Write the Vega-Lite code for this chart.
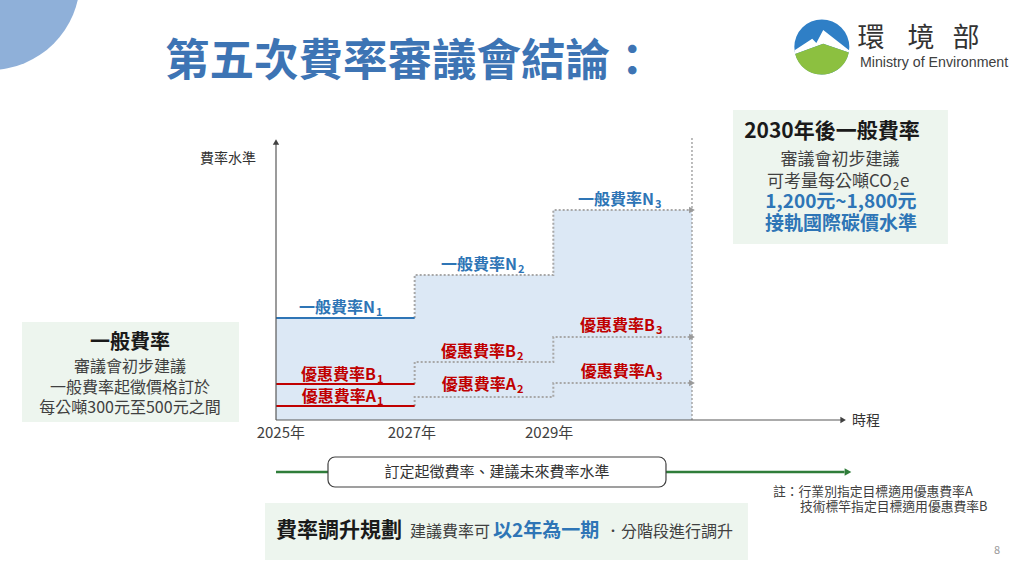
{
  "$schema": "https://vega.github.io/schema/vega-lite/v6.json",
  "width": 1024,
  "height": 576,
  "autosize": {"type": "none"},
  "padding": 0,
  "background": "white",
  "config": {"view": {"stroke": null}, "font": "Noto Sans CJK TC", "text": {"font": "Noto Sans CJK TC"}},
  "datasets": {
    "deco": [{"year": 2020.875, "level": 440}],
    "logo": [{"year": 2032.873, "level": 373}],
    "area": [
      {"year": 2025, "level": 102},
      {"year": 2027, "level": 145},
      {"year": 2029, "level": 210},
      {"year": 2031, "level": 210}
    ],
    "solid": [
      {"series": "N", "year": 2025, "level": 102},
      {"series": "N", "year": 2027, "level": 102},
      {"series": "B", "year": 2025, "level": 36},
      {"series": "B", "year": 2027, "level": 36},
      {"series": "A", "year": 2025, "level": 14},
      {"series": "A", "year": 2027, "level": 14}
    ],
    "dotted": [
      {"series": "N", "i": 1, "year": 2027, "level": 102},
      {"series": "N", "i": 2, "year": 2027, "level": 145},
      {"series": "N", "i": 3, "year": 2029, "level": 145},
      {"series": "N", "i": 4, "year": 2029, "level": 210},
      {"series": "N", "i": 5, "year": 2031, "level": 210},
      {"series": "B", "i": 1, "year": 2027, "level": 36},
      {"series": "B", "i": 2, "year": 2027, "level": 58},
      {"series": "B", "i": 3, "year": 2029, "level": 58},
      {"series": "B", "i": 4, "year": 2029, "level": 83},
      {"series": "B", "i": 5, "year": 2031, "level": 83},
      {"series": "A", "i": 1, "year": 2027, "level": 14},
      {"series": "A", "i": 2, "year": 2027, "level": 23},
      {"series": "A", "i": 3, "year": 2029, "level": 23},
      {"series": "A", "i": 4, "year": 2029, "level": 37},
      {"series": "A", "i": 5, "year": 2031, "level": 37}
    ],
    "ends": [
      {"year": 2031, "level": 210},
      {"year": 2031, "level": 83},
      {"year": 2031, "level": 37}
    ],
    "greenboxes": [
      {"year": 2021.336, "year2": 2024.466, "level": 98, "level2": -2},
      {"year": 2031.591, "year2": 2034.692, "level": 310, "level2": 176},
      {"year": 2024.841, "year2": 2031.807, "level": -83, "level2": -140}
    ]
  },
  "encoding": {
    "x": {"field": "year", "type": "quantitative", "scale": {"domain": [2021.019, 2035.789], "nice": false, "zero": false}, "axis": null},
    "y": {"field": "level", "type": "quantitative", "scale": {"domain": [-156, 420], "nice": false, "zero": false}, "axis": null}
  },
  "layer": [
    {"data": {"name": "deco"}, "mark": {"type": "point", "shape": "circle", "filled": true, "size": 32400, "color": "#8fb0d9", "opacity": 1}},
    {"data": {"values": [{"text": "第五次費率審議會結論：", "year": 2023.399, "level": 357}]},
     "mark": {"type": "text", "align": "left", "baseline": "middle", "fontSize": 44.5, "fontWeight": "bold", "color": "#3d74b4"},
     "encoding": {"text": {"field": "text"}}},
    {"data": {"name": "logo"}, "mark": {"type": "point", "shape": "circle", "filled": true, "size": 3025, "color": "#2f7fc6", "opacity": 1}},
    {"data": {"name": "logo"}, "mark": {"type": "point", "shape": "M -0.99 0.12 L -0.35 -0.3 L -0.2 -0.15 L 0.05 -0.62 L 0.99 0.12 L 0.98 0.2 L 0.05 -0.12 L -0.97 0.25 Z", "filled": true, "size": 3025, "color": "#ffffff", "opacity": 1}},
    {"data": {"name": "logo"}, "mark": {"type": "point", "shape": "M -0.97 0.25 L 0.05 -0.12 L 0.98 0.2 A 1 1 0 0 1 -0.97 0.25 Z", "filled": true, "size": 3025, "color": "#8cc040", "opacity": 1}},
    {"data": {"values": [
        {"text": "環", "year": 2033.581, "level": 381},
        {"text": "境", "year": 2034.302, "level": 381},
        {"text": "部", "year": 2034.951, "level": 381}]},
     "mark": {"type": "text", "align": "center", "baseline": "middle", "fontSize": 27, "color": "#333333"},
     "encoding": {"text": {"field": "text"}}},
    {"data": {"values": [{"text": "Ministry of Environment", "year": 2033.423, "level": 357}]},
     "mark": {"type": "text", "align": "left", "baseline": "middle", "fontSize": 14.2, "font": "Liberation Sans", "color": "#404040"},
     "encoding": {"text": {"field": "text"}}},
    {"data": {"name": "greenboxes"}, "mark": {"type": "rect", "color": "#edf5ee"},
     "encoding": {"x2": {"field": "year2"}, "y2": {"field": "level2"}}},
    {"data": {"name": "area"}, "mark": {"type": "area", "interpolate": "step-after", "color": "#dce8f5", "opacity": 1},
     "encoding": {"y2": {"datum": 0}}},
    {"data": {"values": [{"year": 2031, "level": 0, "level2": 282}]},
     "mark": {"type": "rule", "color": "#a6a6a6", "strokeWidth": 1.5, "strokeDash": [2, 2]},
     "encoding": {"y2": {"field": "level2"}}},
    {"data": {"name": "dotted"}, "mark": {"type": "line", "color": "#a8a8a8", "strokeWidth": 2, "strokeDash": [2, 2]},
     "encoding": {"detail": {"field": "series"}, "order": {"field": "i", "type": "quantitative"}}},
    {"data": {"name": "ends"}, "mark": {"type": "point", "shape": "triangle-right", "filled": true, "size": 45, "color": "#9a9a9a", "opacity": 1}},
    {"data": {"name": "solid"}, "mark": {"type": "line", "strokeWidth": 2.2},
     "encoding": {"detail": {"field": "series"}, "color": {"field": "series", "type": "nominal", "scale": {"domain": ["N", "B", "A"], "range": ["#2e75b6", "#c00000", "#c00000"]}, "legend": null}}},
    {"data": {"values": [
        {"year": 2025, "level": 0, "year2": 2025, "level2": 276},
        {"year": 2025, "level": 0, "year2": 2033.15, "level2": 0}]},
     "mark": {"type": "rule", "color": "#595959", "strokeWidth": 1.2},
     "encoding": {"x2": {"field": "year2"}, "y2": {"field": "level2"}}},
    {"data": {"values": [{"year": 2025, "level": 278}]},
     "mark": {"type": "point", "shape": "triangle-up", "filled": true, "size": 40, "color": "#404040", "opacity": 1}},
    {"data": {"values": [{"year": 2033.18, "level": 0}]},
     "mark": {"type": "point", "shape": "triangle-right", "filled": true, "size": 40, "color": "#404040", "opacity": 1}},
    {"data": {"values": [{"year": 2025, "level": -52, "year2": 2033.2}]},
     "mark": {"type": "rule", "color": "#2f7d3a", "strokeWidth": 2.5},
     "encoding": {"x2": {"field": "year2"}}},
    {"data": {"values": [{"year": 2033.25, "level": -52}]},
     "mark": {"type": "point", "shape": "triangle-right", "filled": true, "size": 60, "color": "#2f7d3a", "opacity": 1}},
    {"data": {"values": [{"year": 2025.75, "year2": 2030.625, "level": -37, "level2": -67}]},
     "mark": {"type": "rect", "fill": "#ffffff", "stroke": "#404040", "strokeWidth": 1.2, "cornerRadius": 7},
     "encoding": {"x2": {"field": "year2"}, "y2": {"field": "level2"}}},
    {"data": {"values": [{"text": "訂定起徵費率、建議未來費率水準", "year": 2028.187, "level": -52}]},
     "mark": {"type": "text", "align": "center", "baseline": "middle", "fontSize": 15, "color": "#333333"},
     "encoding": {"text": {"field": "text"}}},
    {"data": {"values": [{"text": "費率水準", "year": 2024.307, "level": 261}]},
     "mark": {"type": "text", "align": "center", "baseline": "middle", "fontSize": 14, "color": "#333333"},
     "encoding": {"text": {"field": "text"}}},
    {"data": {"values": [{"text": "時程", "year": 2033.307, "level": -1}]},
     "mark": {"type": "text", "align": "left", "baseline": "middle", "fontSize": 14, "color": "#333333"},
     "encoding": {"text": {"field": "text"}}},
    {"data": {"values": [
        {"text": "2025年", "year": 2025.07, "level": -13},
        {"text": "2027年", "year": 2026.96, "level": -13},
        {"text": "2029年", "year": 2028.94, "level": -13}]},
     "mark": {"type": "text", "align": "center", "baseline": "middle", "fontSize": 15, "color": "#404040"},
     "encoding": {"text": {"field": "text"}}},
    {"data": {"values": [
        {"text": "一般費率N", "kind": "N1", "year": 2025.923, "level": 112},
        {"text": "一般費率N", "kind": "N", "year": 2027.971, "level": 155},
        {"text": "一般費率N", "kind": "N", "year": 2029.947, "level": 220},
        {"text": "優惠費率B", "kind": "R1", "year": 2025.937, "level": 45},
        {"text": "優惠費率A", "kind": "R1", "year": 2025.937, "level": 23},
        {"text": "優惠費率B", "kind": "R", "year": 2027.956, "level": 68},
        {"text": "優惠費率A", "kind": "R", "year": 2027.956, "level": 35},
        {"text": "優惠費率B", "kind": "R", "year": 2029.961, "level": 94},
        {"text": "優惠費率A", "kind": "R", "year": 2029.961, "level": 48}]},
     "mark": {"type": "text", "align": "right", "baseline": "middle", "fontSize": 16, "fontWeight": "bold", "dx": 35},
     "encoding": {"text": {"field": "text"}, "color": {"field": "kind", "type": "nominal", "scale": {"domain": ["N1", "N", "R1", "R"], "range": ["#2e75b6", "#78a6dc", "#c00000", "#d9707f"]}, "legend": null}}},
    {"data": {"values": [
        {"text": "1", "kind": "N1", "year": 2025.923, "level": 112},
        {"text": "2", "kind": "N", "year": 2027.971, "level": 155},
        {"text": "3", "kind": "N", "year": 2029.947, "level": 220},
        {"text": "1", "kind": "R1", "year": 2025.937, "level": 45},
        {"text": "1", "kind": "R1", "year": 2025.937, "level": 23},
        {"text": "2", "kind": "R", "year": 2027.956, "level": 68},
        {"text": "2", "kind": "R", "year": 2027.956, "level": 35},
        {"text": "3", "kind": "R", "year": 2029.961, "level": 94},
        {"text": "3", "kind": "R", "year": 2029.961, "level": 48}]},
     "mark": {"type": "text", "align": "left", "baseline": "middle", "fontSize": 11, "fontWeight": "bold", "dx": 36, "dy": 5},
     "encoding": {"text": {"field": "text"}, "color": {"field": "kind", "type": "nominal", "legend": null}}},
    {"data": {"values": [{"text": "一般費率", "year": 2022.894, "level": 77}]},
     "mark": {"type": "text", "align": "center", "baseline": "middle", "fontSize": 20, "fontWeight": "bold", "color": "#1a1a1a"},
     "encoding": {"text": {"field": "text"}}},
    {"data": {"values": [
        {"text": "審議會初步建議", "year": 2022.894, "level": 53},
        {"text": "一般費率起徵價格訂於", "year": 2022.894, "level": 32},
        {"text": "每公噸300元至500元之間", "year": 2022.894, "level": 12}]},
     "mark": {"type": "text", "align": "center", "baseline": "middle", "fontSize": 16, "color": "#404040"},
     "encoding": {"text": {"field": "text"}}},
    {"data": {"values": [{"text": "2030年後一般費率", "year": 2033.019, "level": 288}]},
     "mark": {"type": "text", "align": "center", "baseline": "middle", "fontSize": 21, "fontWeight": "bold", "color": "#1a1a1a"},
     "encoding": {"text": {"field": "text"}}},
    {"data": {"values": [
        {"text": "審議會初步建議", "year": 2033.134, "level": 260}]},
     "mark": {"type": "text", "align": "center", "baseline": "middle", "fontSize": 17, "color": "#404040"},
     "encoding": {"text": {"field": "text"}}},
    {"data": {"values": [
        {"text": "可考量每公噸CO", "year": 2033.884, "level": 238}]},
     "mark": {"type": "text", "align": "right", "baseline": "middle", "fontSize": 17, "color": "#404040"},
     "encoding": {"text": {"field": "text"}}},
    {"data": {"values": [
        {"text": "e", "year": 2034.0, "level": 238}]},
     "mark": {"type": "text", "align": "left", "baseline": "middle", "fontSize": 17, "color": "#404040"},
     "encoding": {"text": {"field": "text"}}},
    {"data": {"values": [
        {"text": "2", "year": 2033.942, "level": 238}]},
     "mark": {"type": "text", "align": "center", "baseline": "middle", "fontSize": 11, "color": "#404040", "dy": 5},
     "encoding": {"text": {"field": "text"}}},
    {"data": {"values": [
        {"text": "1,200元~1,800元", "year": 2033.149, "level": 218},
        {"text": "接軌國際碳價水準", "year": 2033.149, "level": 196}]},
     "mark": {"type": "text", "align": "center", "baseline": "middle", "fontSize": 19, "fontWeight": "bold", "color": "#2e75b6"},
     "encoding": {"text": {"field": "text"}}},
    {"data": {"values": [{"text": "費率調升規劃", "year": 2025.0, "level": -111}]},
     "mark": {"type": "text", "align": "left", "baseline": "middle", "fontSize": 21, "fontWeight": "bold", "color": "#1a1a1a"},
     "encoding": {"text": {"field": "text"}}},
    {"data": {"values": [
        {"text": "建議費率可", "year": 2026.932, "level": -112},
        {"text": "．分階段進行調升", "year": 2029.745, "level": -112}]},
     "mark": {"type": "text", "align": "left", "baseline": "middle", "fontSize": 16, "color": "#404040"},
     "encoding": {"text": {"field": "text"}}},
    {"data": {"values": [{"text": "以2年為一期", "year": 2028.13, "level": -111}]},
     "mark": {"type": "text", "align": "left", "baseline": "middle", "fontSize": 19, "fontWeight": "bold", "color": "#2e75b6"},
     "encoding": {"text": {"field": "text"}}},
    {"data": {"values": [
        {"text": "註：行業別指定目標適用優惠費率A", "year": 2032.168, "level": -72},
        {"text": "技術標竿指定目標適用優惠費率B", "year": 2032.557, "level": -87}]},
     "mark": {"type": "text", "align": "left", "baseline": "middle", "fontSize": 12.8, "color": "#404040"},
     "encoding": {"text": {"field": "text"}}},
    {"data": {"values": [{"text": "8", "year": 2035.399, "level": -131}]},
     "mark": {"type": "text", "align": "center", "baseline": "middle", "fontSize": 11, "color": "#999999"},
     "encoding": {"text": {"field": "text"}}}
  ]
}
